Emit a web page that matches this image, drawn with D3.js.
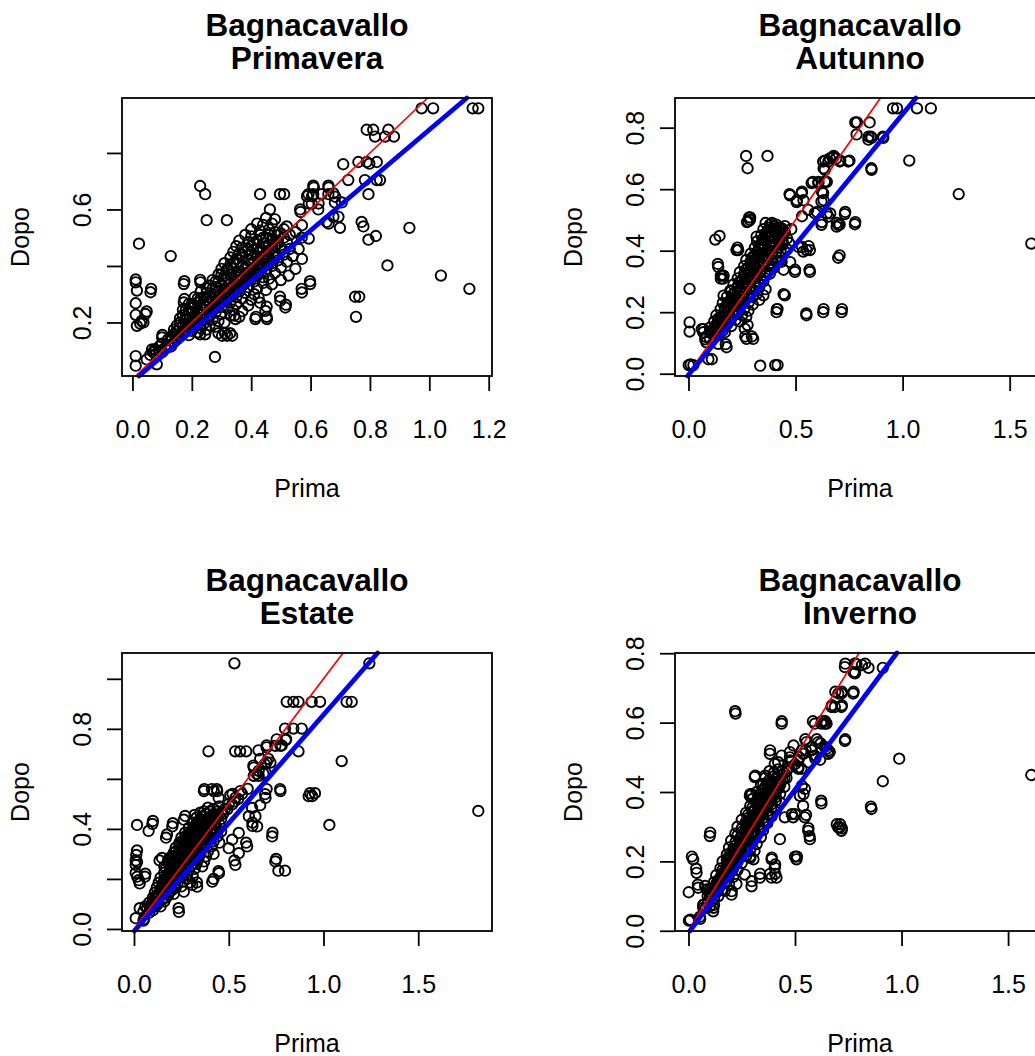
<!DOCTYPE html>
<html>
<head>
<meta charset="utf-8">
<script src="https://cdn.jsdelivr.net/npm/d3@7"></script>
<style>
  body { margin: 0; background: #fff; }
  svg { display: block; font-family: "Liberation Sans", Arial, Helvetica, sans-serif; }
</style>
</head>
<body>
<div id="chart"></div>
<script>
// Bagnacavallo, before (Prima) vs after (Dopo), one panel per season.
const town = 'Bagnacavallo';
const seasons = ['Primavera', 'Autunno', 'Estate', 'Inverno'];
const xLabel = 'Prima';
const yLabel = 'Dopo';

// pairs are [prima, dopo]
const primavera = [
  [0.974,0.958],[1.013,0.958],[1.146,0.958],[1.165,0.958],
  [0.789,0.882],[0.811,0.882],[0.862,0.882],[0.817,0.858],[0.851,0.858],[0.881,0.858],
  [0.710,0.760],[0.761,0.768],[0.789,0.768],[0.798,0.762],[0.823,0.768],
  [0.727,0.704],[0.783,0.704],[0.823,0.704],[0.834,0.704],[0.795,0.654],
  [0.609,0.684],[0.660,0.684],[0.677,0.657],[0.593,0.654],[0.609,0.654],[0.637,0.654],[0.660,0.654],
  [0.682,0.625],[0.705,0.625],[0.604,0.620],[0.626,0.600],[0.565,0.600],
  [0.654,0.556],[0.677,0.574],[0.694,0.574],[0.699,0.535],[0.772,0.556],[0.778,0.540],
  [0.795,0.493],[0.820,0.506],[0.933,0.535],[0.859,0.402],[1.039,0.366],[1.135,0.319],
  [0.750,0.291],[0.764,0.291],[0.753,0.220],[0.598,0.346],[0.570,0.319],[0.517,0.263],[0.497,0.291],
  [0.452,0.256],[0.452,0.220],[0.416,0.220],[0.430,0.654],[0.497,0.654],[0.511,0.654],[0.463,0.600],
  [0.228,0.683],[0.245,0.654],[0.250,0.562],[0.318,0.562],[0.129,0.435],[0.022,0.479],
  [0.011,0.352],[0.015,0.313],[0.011,0.268],[0.011,0.227],[0.015,0.188],[0.031,0.206],[0.048,0.239],
  [0.063,0.319],[0.026,0.196],[0.037,0.200],[0.011,0.342],
  [0.011,0.081],[0.011,0.047],[0.048,0.069],[0.082,0.052],[0.101,0.156],[0.278,0.078],
  [0.228,0.351],[0.175,0.346],[0.175,0.283],[0.290,0.162],[0.312,0.162],[0.329,0.162],
  [0.228,0.158],[0.245,0.158],[0.343,0.224],
  [0.611,0.678],[0.661,0.678],[0.588,0.647],[0.605,0.647],[0.627,0.621],[0.683,0.645],[0.566,0.591],
  [0.594,0.621],[0.571,0.544],[0.661,0.550],[0.594,0.497],[0.571,0.425],[0.549,0.390],[0.526,0.366],
  [0.599,0.336],[0.571,0.306],[0.515,0.253],[0.448,0.241],[0.453,0.212],[0.414,0.212],[0.498,0.277],
  [0.425,0.288],[0.347,0.212],[0.302,0.153],[0.319,0.153],[0.336,0.153],[0.173,0.336],[0.229,0.342],
  [0.173,0.271],[0.061,0.307],[0.044,0.230],[0.100,0.147],[0.066,0.105],[0.077,0.102],
  [0.06,0.085],[0.07,0.095],[0.08,0.09],[0.09,0.1],[0.10,0.095],[0.075,0.105],
  [0.09,0.115],[0.11,0.11],[0.12,0.12],[0.10,0.125],[0.13,0.115],[0.14,0.13],
  [0.12,0.14],[0.13,0.15],[0.15,0.14],[0.16,0.15],[0.14,0.16],[0.17,0.16],[0.19,0.155],
  [0.15,0.17],[0.16,0.18],[0.18,0.175],[0.20,0.17],[0.22,0.165],[0.17,0.19],[0.19,0.19],[0.21,0.185],[0.23,0.18],[0.25,0.175],
  [0.16,0.20],[0.18,0.21],[0.20,0.20],[0.22,0.205],[0.24,0.195],[0.26,0.19],[0.28,0.185],
  [0.17,0.225],[0.19,0.23],[0.21,0.22],[0.23,0.225],[0.25,0.215],[0.27,0.21],[0.29,0.205],[0.31,0.20],
  [0.18,0.245],[0.20,0.25],[0.22,0.24],[0.24,0.245],[0.26,0.24],[0.28,0.235],[0.30,0.23],[0.33,0.225],[0.36,0.22],
  [0.20,0.265],[0.22,0.27],[0.24,0.26],[0.26,0.265],[0.28,0.26],[0.30,0.255],[0.32,0.25],[0.34,0.245],[0.37,0.24],
  [0.21,0.29],[0.23,0.285],[0.25,0.28],[0.27,0.285],[0.29,0.28],[0.31,0.275],[0.33,0.27],[0.35,0.265],[0.39,0.26],
  [0.23,0.31],[0.25,0.305],[0.27,0.30],[0.29,0.31],[0.31,0.30],[0.33,0.295],[0.35,0.29],[0.37,0.285],[0.40,0.28],[0.43,0.27],
  [0.26,0.33],[0.28,0.325],[0.30,0.33],[0.32,0.32],[0.34,0.315],[0.36,0.31],[0.38,0.305],[0.41,0.30],
  [0.27,0.35],[0.29,0.345],[0.31,0.35],[0.33,0.34],[0.35,0.335],[0.37,0.33],[0.39,0.325],[0.42,0.32],[0.45,0.315],
  [0.29,0.37],[0.31,0.365],[0.33,0.37],[0.35,0.36],[0.37,0.355],[0.39,0.35],[0.41,0.345],[0.44,0.34],[0.47,0.335],
  [0.30,0.39],[0.32,0.385],[0.34,0.39],[0.36,0.38],[0.38,0.375],[0.40,0.37],[0.42,0.365],[0.44,0.36],[0.46,0.355],[0.50,0.35],
  [0.31,0.41],[0.33,0.405],[0.35,0.41],[0.37,0.40],[0.39,0.395],[0.41,0.39],[0.43,0.385],[0.45,0.38],[0.48,0.375],
  [0.33,0.43],[0.35,0.425],[0.37,0.43],[0.39,0.42],[0.41,0.415],[0.43,0.41],[0.45,0.405],[0.47,0.40],[0.50,0.395],
  [0.34,0.45],[0.36,0.445],[0.38,0.45],[0.40,0.44],[0.42,0.435],[0.44,0.43],[0.46,0.425],[0.49,0.42],[0.52,0.415],
  [0.35,0.47],[0.37,0.465],[0.40,0.47],[0.42,0.46],[0.44,0.455],[0.46,0.45],[0.48,0.445],[0.51,0.44],[0.54,0.435],
  [0.36,0.49],[0.39,0.485],[0.42,0.49],[0.44,0.48],[0.46,0.475],[0.48,0.47],[0.50,0.465],[0.53,0.46],
  [0.38,0.51],[0.40,0.505],[0.43,0.51],[0.45,0.50],[0.47,0.495],[0.49,0.49],[0.52,0.485],
  [0.40,0.53],[0.43,0.525],[0.46,0.53],[0.48,0.52],[0.50,0.515],[0.53,0.51],
  [0.42,0.55],[0.44,0.545],[0.47,0.55],[0.52,0.54],[0.45,0.57],[0.48,0.565],[0.55,0.52],[0.57,0.50],[0.56,0.46],
  [0.13,0.135],[0.15,0.155],[0.17,0.17],[0.18,0.195],[0.20,0.185],[0.21,0.205],[0.23,0.215],[0.22,0.23],
  [0.24,0.235],[0.25,0.255],[0.27,0.25],[0.26,0.275],[0.28,0.275],[0.29,0.295],[0.30,0.29],[0.31,0.315],
  [0.32,0.31],[0.33,0.335],[0.34,0.33],[0.35,0.35],[0.36,0.345],[0.36,0.37],[0.38,0.365],[0.38,0.39],
  [0.40,0.385],[0.40,0.41],[0.42,0.405],[0.42,0.43],[0.44,0.42],[0.43,0.45],[0.45,0.445],[0.45,0.47],
  [0.47,0.465],[0.47,0.49],[0.49,0.48],[0.49,0.51],[0.51,0.50],[0.51,0.53],[0.46,0.51],[0.44,0.50],
  [0.41,0.48],[0.39,0.46],[0.37,0.44],[0.34,0.41],[0.32,0.39],[0.30,0.37],[0.28,0.345],[0.27,0.32],
  [0.25,0.32],[0.24,0.29],[0.22,0.285],[0.21,0.26],[0.19,0.265],[0.19,0.24],[0.17,0.245],[0.18,0.22],
  [0.16,0.215],[0.15,0.19],[0.14,0.175],[0.32,0.29],[0.34,0.30],[0.36,0.325],[0.38,0.34],[0.40,0.355],
  [0.42,0.375],[0.44,0.395],[0.46,0.41],[0.48,0.43],[0.30,0.27],[0.28,0.25],[0.26,0.225],[0.24,0.215],[0.22,0.19]
];

const autunno = [
  [0.955,0.863],[0.974,0.863],[1.067,0.863],[1.132,0.863],
  [0.779,0.817],[0.787,0.817],[0.846,0.817],[0.841,0.771],[0.852,0.771],[0.908,0.771],
  [1.031,0.693],[1.262,0.584],[1.601,0.423],[0.854,0.668],
  [0.269,0.708],[0.369,0.708],[0.276,0.668],
  [0.639,0.693],[0.678,0.708],[0.709,0.693],[0.752,0.693],[0.631,0.668],[0.660,0.700],[0.690,0.700],
  [0.581,0.624],[0.607,0.624],[0.639,0.624],[0.646,0.624],
  [0.472,0.584],[0.530,0.592],[0.506,0.564],[0.537,0.564],[0.623,0.592],[0.631,0.564],
  [0.530,0.512],[0.732,0.526],[0.779,0.493],[0.693,0.490],[0.706,0.485],[0.662,0.521],[0.646,0.521],
  [0.623,0.493],[0.600,0.526],[0.706,0.385],[0.565,0.338],[0.550,0.196],[0.631,0.210],[0.717,0.210],[0.416,0.210],
  [0.335,0.026],[0.405,0.028],[0.416,0.028],[0.001,0.028],[0.023,0.028],[0.010,0.030],
  [0.005,0.276],[0.005,0.167],[0.005,0.137],[0.062,0.145],[0.070,0.145],[0.078,0.112],
  [0.093,0.047],[0.109,0.047],[0.174,0.096],[0.276,0.158],[0.265,0.121],[0.296,0.121],
  [0.125,0.436],[0.145,0.448],[0.137,0.357],[0.151,0.319],[0.164,0.319],[0.155,0.320],
  [0.229,0.410],[0.283,0.508],[0.288,0.508],[0.273,0.493],[0.164,0.254],[0.195,0.270],
  [0.444,0.259],[0.413,0.210],[0.498,0.338],[0.475,0.363],[0.444,0.338],
  [0.514,0.412],[0.530,0.412],[0.561,0.415],
  [0.069,0.135],[0.084,0.102],[0.100,0.135],[0.178,0.086],[0.139,0.097],[0.263,0.146],[0.271,0.113],[0.302,0.113],
  [0.139,0.347],[0.151,0.309],[0.162,0.309],[0.224,0.402],[0.279,0.495],[0.287,0.500],
  [0.474,0.580],[0.528,0.587],[0.505,0.558],[0.575,0.620],[0.606,0.620],[0.637,0.625],[0.629,0.587],[0.621,0.560],
  [0.629,0.690],[0.653,0.690],[0.676,0.704],[0.707,0.690],[0.746,0.690],[0.637,0.663],
  [0.785,0.778],[0.855,0.767],[0.840,0.761],[0.910,0.767],[0.855,0.663],
  [0.730,0.519],[0.777,0.486],[0.699,0.484],[0.692,0.478],[0.653,0.511],[0.621,0.484],[0.590,0.522],[0.559,0.533],
  [0.699,0.377],[0.567,0.331],[0.551,0.190],[0.629,0.200],[0.715,0.200],[0.411,0.200],[0.450,0.255],
  [0.551,0.402],[0.567,0.402],[0.536,0.397],[0.497,0.331],[0.435,0.364],[0.232,0.402],[0.318,0.446],[0.349,0.440],
  [0.08,0.12],[0.10,0.115],[0.11,0.13],[0.12,0.12],[0.13,0.135],[0.14,0.125],
  [0.10,0.15],[0.12,0.145],[0.13,0.155],[0.15,0.15],[0.16,0.14],[0.17,0.135],
  [0.12,0.17],[0.14,0.165],[0.15,0.175],[0.17,0.17],[0.18,0.16],[0.20,0.155],
  [0.13,0.19],[0.15,0.185],[0.17,0.19],[0.19,0.185],[0.20,0.18],[0.22,0.175],[0.24,0.17],
  [0.15,0.21],[0.17,0.205],[0.19,0.21],[0.21,0.20],[0.23,0.195],[0.25,0.19],[0.27,0.185],
  [0.16,0.23],[0.18,0.225],[0.20,0.23],[0.22,0.22],[0.24,0.215],[0.26,0.21],[0.28,0.205],
  [0.18,0.25],[0.20,0.245],[0.22,0.25],[0.24,0.24],[0.26,0.235],[0.28,0.23],[0.30,0.225],[0.33,0.24],
  [0.20,0.27],[0.22,0.265],[0.24,0.27],[0.26,0.26],[0.28,0.255],[0.30,0.25],[0.32,0.26],[0.35,0.255],
  [0.21,0.29],[0.23,0.285],[0.25,0.29],[0.27,0.28],[0.29,0.275],[0.31,0.27],[0.33,0.28],[0.36,0.275],
  [0.23,0.31],[0.25,0.305],[0.27,0.31],[0.29,0.30],[0.31,0.295],[0.33,0.29],[0.35,0.30],
  [0.24,0.33],[0.26,0.325],[0.28,0.33],[0.30,0.32],[0.32,0.315],[0.34,0.31],[0.36,0.32],[0.38,0.325],
  [0.26,0.35],[0.28,0.345],[0.30,0.35],[0.32,0.34],[0.34,0.335],[0.36,0.33],[0.38,0.34],[0.40,0.345],
  [0.27,0.37],[0.29,0.365],[0.31,0.37],[0.33,0.36],[0.35,0.355],[0.37,0.35],[0.39,0.36],[0.42,0.365],
  [0.29,0.39],[0.31,0.385],[0.33,0.39],[0.35,0.38],[0.37,0.375],[0.39,0.37],[0.41,0.38],
  [0.31,0.41],[0.33,0.405],[0.35,0.41],[0.37,0.40],[0.39,0.395],[0.41,0.39],[0.43,0.40],[0.46,0.405],
  [0.32,0.43],[0.34,0.425],[0.36,0.43],[0.38,0.42],[0.40,0.415],[0.42,0.41],[0.44,0.42],[0.47,0.425],
  [0.34,0.45],[0.36,0.445],[0.38,0.45],[0.40,0.44],[0.42,0.435],[0.44,0.43],[0.46,0.44],
  [0.35,0.47],[0.37,0.465],[0.39,0.47],[0.41,0.46],[0.43,0.455],[0.45,0.46],
  [0.36,0.49],[0.38,0.485],[0.40,0.48],[0.42,0.475],[0.44,0.47],[0.48,0.47],
  [0.11,0.14],[0.13,0.16],[0.14,0.18],[0.16,0.19],[0.17,0.215],[0.19,0.225],[0.20,0.24],[0.22,0.235],
  [0.21,0.26],[0.23,0.26],[0.23,0.28],[0.25,0.27],[0.24,0.30],[0.26,0.295],[0.26,0.315],[0.28,0.31],
  [0.27,0.34],[0.29,0.335],[0.29,0.355],[0.31,0.35],[0.30,0.38],[0.32,0.375],[0.32,0.395],[0.34,0.39],
  [0.33,0.415],[0.35,0.42],[0.35,0.435],[0.37,0.44],[0.36,0.455],[0.38,0.465],[0.38,0.475],[0.40,0.47],
  [0.39,0.49],[0.41,0.485],[0.43,0.445],[0.41,0.42],[0.39,0.41],[0.37,0.385],[0.35,0.365],[0.33,0.345],
  [0.31,0.325],[0.29,0.31],[0.27,0.29],[0.25,0.25],[0.23,0.245],[0.21,0.22],[0.19,0.20],[0.17,0.18],
  [0.15,0.16],[0.13,0.14],[0.42,0.45],[0.44,0.455],[0.43,0.475],[0.45,0.48],[0.40,0.43],[0.38,0.40]
];

const estate = [
  [0.530,1.062],[1.242,1.062],
  [0.806,0.908],[0.841,0.908],[0.868,0.908],[0.938,0.908],[0.982,0.908],[1.122,0.908],[1.149,0.908],
  [0.797,0.801],[0.841,0.801],[0.885,0.801],[0.868,0.710],[0.753,0.758],[0.803,0.758],[0.780,0.734],
  [1.096,0.671],[0.929,0.543],[0.955,0.543],[1.817,0.472],[1.031,0.416],[0.731,0.385],[0.750,0.280],
  [0.762,0.233],[0.797,0.233],[0.393,0.710],[0.534,0.710],[0.560,0.710],[0.592,0.710],
  [0.657,0.714],[0.700,0.734],[0.709,0.680],[0.666,0.680],[0.630,0.653],[0.648,0.620],[0.683,0.620],[0.700,0.667],
  [0.771,0.559],[0.692,0.539],[0.700,0.559],[0.666,0.495],[0.625,0.425],[0.625,0.412],
  [0.592,0.345],[0.530,0.274],[0.420,0.200],[0.446,0.231],[0.297,0.186],[0.332,0.186],[0.235,0.083],
  [0.371,0.559],[0.411,0.559],[0.437,0.559],[0.508,0.535],
  [0.016,0.416],[0.100,0.432],[0.077,0.392],[0.205,0.423],[0.270,0.452],[0.320,0.456],
  [0.016,0.314],[0.009,0.274],[0.016,0.268],[0.009,0.224],[0.060,0.221],[0.025,0.195],
  [0.009,0.043],[0.030,0.083],[0.050,0.033],[0.174,0.378],[0.169,0.365],[0.135,0.274],[0.148,0.284],
  [0.800,0.755],[0.773,0.732],[0.746,0.732],[0.700,0.726],[0.720,0.665],[0.690,0.659],[0.658,0.632],
  [0.632,0.645],[0.694,0.625],[0.632,0.612],[0.658,0.612],
  [0.369,0.551],[0.421,0.551],[0.447,0.524],[0.439,0.551],[0.535,0.524],[0.561,0.551],[0.773,0.551],
  [0.694,0.524],[0.922,0.531],[0.940,0.531],[0.729,0.370],[0.746,0.270],
  [0.097,0.420],[0.202,0.410],[0.263,0.437],[0.012,0.296],[0.009,0.256],[0.017,0.209],[0.058,0.209],[0.030,0.182],
  [0.237,0.068],[0.053,0.040],
  [0.535,0.256],[0.597,0.330],[0.553,0.303],[0.448,0.223],[0.413,0.189],[0.333,0.169],[0.307,0.176],[0.263,0.149],
  [0.518,0.498],[0.492,0.478],[0.623,0.484],[0.641,0.451],[0.650,0.410],[0.606,0.451],[0.518,0.357],[0.553,0.384],[0.500,0.323],
  [0.05,0.07],[0.07,0.08],[0.08,0.065],[0.06,0.09],[0.09,0.085],[0.10,0.075],[0.11,0.09],
  [0.08,0.105],[0.10,0.10],[0.11,0.11],[0.12,0.095],[0.13,0.105],[0.14,0.09],
  [0.10,0.125],[0.12,0.12],[0.13,0.13],[0.15,0.12],[0.16,0.11],[0.17,0.125],
  [0.11,0.145],[0.13,0.14],[0.15,0.15],[0.16,0.14],[0.18,0.135],[0.19,0.15],[0.21,0.14],
  [0.12,0.165],[0.14,0.16],[0.16,0.17],[0.18,0.16],[0.20,0.155],[0.22,0.165],
  [0.13,0.185],[0.15,0.18],[0.17,0.19],[0.19,0.18],[0.21,0.175],[0.23,0.185],[0.25,0.17],
  [0.14,0.205],[0.16,0.20],[0.18,0.21],[0.20,0.20],[0.22,0.195],[0.24,0.205],[0.26,0.19],[0.28,0.20],
  [0.16,0.225],[0.18,0.22],[0.20,0.23],[0.22,0.22],[0.24,0.215],[0.26,0.225],[0.28,0.215],[0.31,0.21],
  [0.17,0.245],[0.19,0.24],[0.21,0.25],[0.23,0.24],[0.25,0.235],[0.27,0.245],[0.29,0.235],[0.32,0.24],
  [0.18,0.265],[0.20,0.26],[0.22,0.27],[0.24,0.26],[0.26,0.255],[0.28,0.265],[0.30,0.255],[0.33,0.26],[0.36,0.25],
  [0.19,0.285],[0.21,0.28],[0.23,0.29],[0.25,0.28],[0.27,0.275],[0.29,0.285],[0.31,0.275],[0.34,0.28],[0.37,0.27],
  [0.21,0.305],[0.23,0.30],[0.25,0.31],[0.27,0.30],[0.29,0.295],[0.31,0.305],[0.33,0.295],[0.35,0.30],[0.38,0.29],
  [0.22,0.325],[0.24,0.32],[0.26,0.33],[0.28,0.32],[0.30,0.315],[0.32,0.325],[0.34,0.315],[0.36,0.32],[0.39,0.31],[0.42,0.30],
  [0.24,0.345],[0.26,0.34],[0.28,0.35],[0.30,0.34],[0.32,0.335],[0.34,0.345],[0.36,0.335],[0.38,0.34],[0.41,0.33],
  [0.25,0.365],[0.27,0.36],[0.29,0.37],[0.31,0.36],[0.33,0.355],[0.35,0.365],[0.37,0.355],[0.39,0.36],[0.42,0.35],[0.45,0.345],
  [0.27,0.385],[0.29,0.38],[0.31,0.39],[0.33,0.38],[0.35,0.375],[0.37,0.385],[0.39,0.375],[0.41,0.38],[0.44,0.37],
  [0.29,0.405],[0.31,0.40],[0.33,0.41],[0.35,0.40],[0.37,0.395],[0.39,0.405],[0.41,0.395],[0.43,0.40],[0.46,0.39],
  [0.31,0.425],[0.33,0.42],[0.35,0.43],[0.37,0.42],[0.39,0.415],[0.41,0.425],[0.43,0.415],[0.45,0.42],
  [0.33,0.445],[0.35,0.44],[0.37,0.45],[0.39,0.44],[0.41,0.435],[0.43,0.445],[0.46,0.44],
  [0.35,0.465],[0.38,0.46],[0.40,0.47],[0.42,0.46],[0.44,0.455],[0.47,0.46],
  [0.39,0.485],[0.42,0.48],[0.45,0.49],[0.48,0.48],[0.50,0.50],[0.53,0.51],[0.55,0.52],[0.52,0.54],[0.57,0.54],[0.60,0.56],
  [0.09,0.095],[0.11,0.12],[0.12,0.135],[0.14,0.15],[0.15,0.165],[0.17,0.175],[0.17,0.20],[0.19,0.195],
  [0.19,0.22],[0.21,0.215],[0.21,0.235],[0.23,0.23],[0.22,0.255],[0.24,0.25],[0.24,0.275],[0.26,0.27],
  [0.26,0.295],[0.28,0.29],[0.28,0.305],[0.30,0.305],[0.29,0.33],[0.31,0.32],[0.31,0.345],[0.33,0.34],
  [0.32,0.365],[0.34,0.36],[0.34,0.38],[0.36,0.38],[0.36,0.40],[0.38,0.395],[0.38,0.42],[0.40,0.415],
  [0.40,0.44],[0.42,0.435],[0.42,0.455],[0.44,0.445],[0.44,0.47],[0.46,0.465],[0.37,0.47],[0.36,0.45],
  [0.34,0.43],[0.32,0.41],[0.30,0.39],[0.28,0.375],[0.26,0.355],[0.24,0.335],[0.22,0.31],[0.20,0.29],
  [0.18,0.275],[0.16,0.25],[0.35,0.34],[0.37,0.345],[0.39,0.35],[0.40,0.365],[0.42,0.38],[0.43,0.39],
  [0.30,0.28],[0.32,0.29],[0.27,0.26],[0.25,0.24],[0.23,0.21],[0.21,0.19]
];

const inverno = [
  [0.736,0.770],[0.782,0.771],[0.829,0.770],[0.814,0.766],[0.845,0.758],[0.782,0.745],[0.775,0.745],[0.912,0.758],
  [0.689,0.689],[0.720,0.689],[0.775,0.689],[0.673,0.650],[0.720,0.650],
  [0.219,0.633],[0.438,0.604],[0.584,0.604],[0.626,0.604],[0.634,0.604],[0.642,0.604],
  [0.736,0.552],[0.989,0.496],[0.912,0.431],[1.609,0.449],[0.856,0.358],[0.623,0.375],
  [0.696,0.307],[0.712,0.307],[0.720,0.295],[0.552,0.334],[0.563,0.296],[0.568,0.273],[0.500,0.214],[0.509,0.214],
  [0.102,0.283],[0.016,0.214],[0.036,0.179],[0.001,0.111],[0.044,0.133],[0.078,0.129],
  [0.002,0.029],[0.008,0.032],[0.055,0.034],[0.070,0.075],[0.117,0.066],
  [0.203,0.114],[0.297,0.143],[0.336,0.164],[0.383,0.164],[0.407,0.164],[0.391,0.211],[0.407,0.191],
  [0.313,0.447],[0.360,0.447],[0.383,0.520],[0.493,0.534],[0.532,0.520],[0.477,0.491],[0.516,0.471],
  [0.595,0.496],[0.618,0.493],[0.657,0.520],[0.548,0.552],[0.602,0.552],
  [0.532,0.418],[0.540,0.394],[0.485,0.336],[0.500,0.336],[0.290,0.394],[0.297,0.394],[0.290,0.215],[0.305,0.206],
  [0.734,0.760],[0.789,0.768],[0.781,0.742],[0.703,0.684],[0.718,0.684],[0.773,0.684],[0.671,0.645],[0.687,0.645],[0.718,0.645],
  [0.593,0.597],[0.624,0.597],[0.640,0.597],[0.648,0.597],[0.734,0.547],[0.221,0.626],[0.437,0.597],
  [0.382,0.510],[0.405,0.481],[0.421,0.486],[0.437,0.505],[0.476,0.515],[0.476,0.500],[0.484,0.490],[0.515,0.490],
  [0.538,0.510],[0.554,0.544],[0.577,0.520],[0.609,0.544],[0.624,0.525],[0.648,0.525],[0.663,0.515],[0.656,0.510],
  [0.593,0.505],[0.562,0.486],[0.515,0.467],[0.530,0.467],
  [0.859,0.351],[0.624,0.367],[0.546,0.327],[0.562,0.288],[0.570,0.264],[0.703,0.298],[0.718,0.288],[0.710,0.298],
  [0.507,0.206],[0.100,0.273],[0.022,0.206],[0.038,0.167],[0.045,0.124],[0.085,0.119],[0.053,0.040],[0.116,0.056],[0.069,0.066],
  [0.202,0.104],[0.296,0.128],[0.335,0.153],[0.390,0.153],[0.413,0.153],[0.390,0.206],[0.405,0.182],[0.264,0.162],[0.225,0.135],
  [0.429,0.264],[0.452,0.327],[0.491,0.327],[0.546,0.409],[0.523,0.389],[0.538,0.360],[0.311,0.443],[0.351,0.423],[0.288,0.389],
  [0.07,0.075],[0.08,0.065],[0.09,0.08],[0.10,0.07],[0.11,0.085],[0.12,0.075],
  [0.09,0.10],[0.10,0.095],[0.11,0.105],[0.12,0.095],[0.13,0.11],[0.14,0.10],
  [0.10,0.12],[0.12,0.115],[0.13,0.125],[0.14,0.12],[0.15,0.13],[0.16,0.12],[0.17,0.115],
  [0.12,0.14],[0.13,0.135],[0.14,0.145],[0.15,0.14],[0.16,0.15],[0.17,0.14],[0.19,0.135],
  [0.13,0.16],[0.15,0.155],[0.16,0.165],[0.17,0.16],[0.18,0.17],[0.19,0.16],[0.21,0.155],
  [0.15,0.18],[0.16,0.175],[0.18,0.185],[0.19,0.18],[0.20,0.19],[0.21,0.18],[0.23,0.175],
  [0.16,0.20],[0.18,0.195],[0.19,0.205],[0.21,0.20],[0.22,0.21],[0.23,0.20],[0.25,0.195],
  [0.18,0.22],[0.19,0.215],[0.21,0.225],[0.22,0.22],[0.24,0.23],[0.25,0.22],[0.27,0.215],[0.29,0.21],
  [0.19,0.24],[0.21,0.235],[0.22,0.245],[0.24,0.24],[0.25,0.25],[0.27,0.24],[0.29,0.235],[0.31,0.23],
  [0.20,0.26],[0.22,0.255],[0.24,0.265],[0.25,0.26],[0.27,0.27],[0.28,0.26],[0.30,0.255],[0.32,0.25],
  [0.22,0.28],[0.23,0.275],[0.25,0.285],[0.27,0.28],[0.28,0.29],[0.30,0.28],[0.32,0.275],[0.34,0.27],
  [0.23,0.30],[0.25,0.295],[0.27,0.305],[0.28,0.30],[0.30,0.31],[0.31,0.30],[0.33,0.295],[0.35,0.29],
  [0.25,0.32],[0.27,0.315],[0.28,0.325],[0.30,0.32],[0.31,0.33],[0.33,0.32],[0.35,0.315],[0.37,0.31],
  [0.27,0.34],[0.28,0.335],[0.30,0.345],[0.32,0.34],[0.33,0.35],[0.35,0.34],[0.37,0.335],[0.39,0.33],
  [0.29,0.36],[0.30,0.355],[0.32,0.365],[0.34,0.36],[0.35,0.37],[0.37,0.36],[0.39,0.355],[0.41,0.35],
  [0.30,0.38],[0.32,0.375],[0.34,0.385],[0.35,0.38],[0.37,0.39],[0.39,0.38],[0.41,0.375],[0.43,0.37],
  [0.32,0.40],[0.34,0.395],[0.35,0.405],[0.37,0.40],[0.39,0.41],[0.41,0.40],[0.43,0.395],
  [0.34,0.42],[0.36,0.415],[0.37,0.425],[0.39,0.42],[0.41,0.43],[0.43,0.42],[0.45,0.415],
  [0.36,0.44],[0.38,0.435],[0.40,0.445],[0.42,0.44],[0.44,0.45],[0.46,0.44],
  [0.38,0.46],[0.40,0.455],[0.42,0.465],[0.44,0.46],[0.47,0.47],[0.50,0.48],[0.52,0.50],[0.55,0.52],[0.58,0.53],[0.62,0.54],[0.64,0.53],
  [0.10,0.11],[0.11,0.12],[0.13,0.13],[0.14,0.135],[0.15,0.15],[0.16,0.16],[0.17,0.17],[0.18,0.175],
  [0.19,0.19],[0.20,0.20],[0.21,0.21],[0.22,0.20],[0.23,0.22],[0.24,0.22],[0.25,0.24],[0.26,0.24],
  [0.26,0.26],[0.27,0.26],[0.28,0.275],[0.29,0.28],[0.29,0.295],[0.30,0.30],[0.31,0.31],[0.32,0.31],
  [0.32,0.33],[0.33,0.33],[0.34,0.345],[0.35,0.35],[0.36,0.36],[0.37,0.37],[0.38,0.37],[0.38,0.385],
  [0.39,0.39],[0.40,0.40],[0.40,0.39],[0.42,0.41],[0.42,0.425],[0.43,0.43],[0.44,0.435],[0.45,0.44],
  [0.45,0.455],[0.46,0.46],[0.41,0.44],[0.39,0.43],[0.37,0.41],[0.36,0.395],[0.34,0.38],[0.33,0.365],
  [0.31,0.345],[0.30,0.33],[0.28,0.31],[0.27,0.295],[0.25,0.275],[0.24,0.25],[0.22,0.235],[0.21,0.225],
  [0.20,0.215],[0.18,0.205],[0.31,0.285],[0.33,0.305],[0.35,0.325],[0.37,0.345],[0.39,0.365],[0.41,0.385]
];

// fitted line (blue) per season: dopo = intercept + slope * prima
const fitIntercept = [-0.009, -0.004, -0.010, -0.006];
const fitSlope = [0.891, 0.848, 0.866, 0.825];

const seasonData = [primavera, autunno, estate, inverno];

const width = 1035;
const height = 1056;
const panelW = 553;
const panelH = 555;
const box = { left: 122, top: 98, width: 370, height: 278 };
const fontSize = 25;
const labelGap = 22.5; // minimum free space between two tick labels

const svg = d3.select('#chart').append('svg').attr('width', width).attr('height', height);

// R style range: data extent plus 4% on each side
const padExtent = (ext) => {
  const r = ext[1] - ext[0];
  return [ext[0] - 0.04 * r, ext[1] + 0.04 * r];
};

// drop tick labels that would collide with the previous one, like base R
function thinLabels(axisG, pos) {
  let lastEnd = -Infinity;
  axisG.selectAll('.tick').each(function (d) {
    const t = d3.select(this).select('text');
    const len = t.node().getComputedTextLength();
    const p = pos(d);
    if (p - len / 2 < lastEnd + labelGap) t.remove();
    else lastEnd = p + len / 2;
  });
}

seasons.forEach((season, i) => {
  const data = seasonData[i];
  const g = svg
    .append('g')
    .attr('transform', `translate(${(i % 2) * panelW},${Math.floor(i / 2) * panelH})`);

  const x = d3
    .scaleLinear()
    .domain(padExtent(d3.extent(data, (d) => d[0])))
    .range([box.left, box.left + box.width]);
  const y = d3
    .scaleLinear()
    .domain(padExtent(d3.extent(data, (d) => d[1])))
    .range([box.top + box.height, box.top]);

  // points
  g.append('g')
    .selectAll('circle')
    .data(data)
    .join('circle')
    .attr('cx', (d) => x(d[0]))
    .attr('cy', (d) => y(d[1]))
    .attr('r', 5.2)
    .attr('fill', 'none')
    .attr('stroke', '#000')
    .attr('stroke-width', 1.9);

  // straight lines clipped to the plot region
  const [x0, x1] = x.domain();
  const [y0, y1] = y.domain();
  const segment = (a, b) => {
    const ya = (y0 - a) / b;
    const yb = (y1 - a) / b;
    const xa = Math.max(x0, Math.min(ya, yb));
    const xb = Math.min(x1, Math.max(ya, yb));
    return [[xa, a + b * xa], [xb, a + b * xb]];
  };
  const line = d3.line().x((d) => x(d[0])).y((d) => y(d[1]));

  g.append('path')
    .attr('d', line(segment(0, 1)))
    .attr('stroke', '#ff0000')
    .attr('stroke-width', 1.7)
    .attr('stroke-linecap', 'round')
    .attr('fill', 'none');

  g.append('path')
    .attr('d', line(segment(fitIntercept[i], fitSlope[i])))
    .attr('stroke', '#0000ff')
    .attr('stroke-width', 4.8)
    .attr('stroke-linecap', 'round')
    .attr('fill', 'none');

  // box
  g.append('rect')
    .attr('x', box.left)
    .attr('y', box.top)
    .attr('width', box.width)
    .attr('height', box.height)
    .attr('fill', 'none')
    .attr('stroke', '#000')
    .attr('stroke-width', 1.8);

  // bottom axis
  const xAxis = g
    .append('g')
    .attr('transform', `translate(0,${box.top + box.height})`)
    .call(d3.axisBottom(x).ticks(5).tickSize(15).tickSizeOuter(0).tickFormat(d3.format('.1f')));
  xAxis.select('.domain').remove();
  xAxis.attr('font-size', fontSize).attr('font-family', null);
  xAxis.selectAll('line').attr('stroke', '#000').attr('stroke-width', 1.8);
  xAxis.selectAll('text').attr('y', 62).attr('dy', null).attr('fill', '#000');
  thinLabels(xAxis, (d) => x(d));

  // left axis, labels parallel to the axis
  const yAxis = g
    .append('g')
    .attr('transform', `translate(${box.left},0)`)
    .call(d3.axisLeft(y).ticks(5).tickSize(15).tickSizeOuter(0).tickFormat(d3.format('.1f')));
  yAxis.select('.domain').remove();
  yAxis.attr('font-size', fontSize).attr('font-family', null);
  yAxis.selectAll('line').attr('stroke', '#000').attr('stroke-width', 1.8);
  yAxis
    .selectAll('text')
    .attr('x', null)
    .attr('dy', null)
    .attr('fill', '#000')
    .attr('text-anchor', 'middle')
    .attr('transform', 'translate(-31.5,0) rotate(-90)');
  thinLabels(yAxis, (d) => -y(d));

  // titles
  const cx = box.left + box.width / 2;
  const title = g
    .append('text')
    .attr('text-anchor', 'middle')
    .attr('font-weight', 'bold')
    .attr('font-size', 31.5);
  title.append('tspan').attr('x', cx).attr('y', 36).text(town);
  title.append('tspan').attr('x', cx).attr('y', 69).text(season);

  g.append('text')
    .attr('x', cx)
    .attr('y', 497)
    .attr('text-anchor', 'middle')
    .attr('font-size', fontSize)
    .text(xLabel);

  g.append('text')
    .attr('transform', `translate(29,${box.top + box.height / 2}) rotate(-90)`)
    .attr('text-anchor', 'middle')
    .attr('font-size', fontSize)
    .text(yLabel);
});
</script>
</body>
</html>
